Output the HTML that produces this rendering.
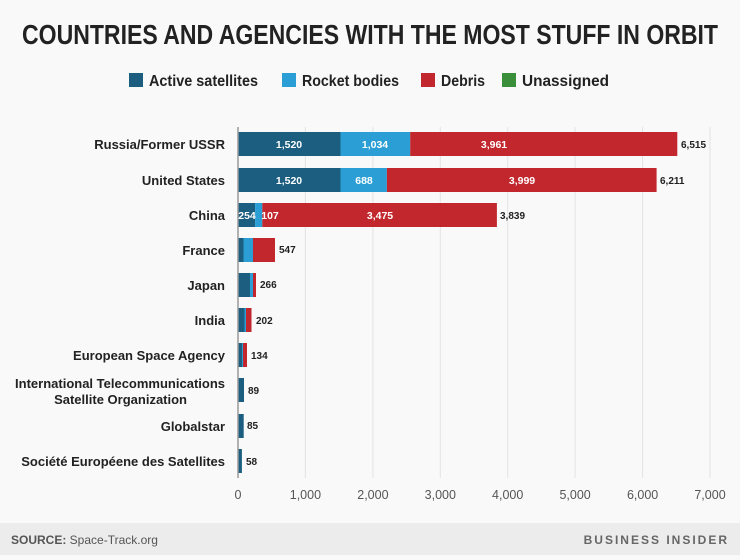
<!DOCTYPE html>
<html><head><meta charset="utf-8"><style>
body{margin:0;width:740px;height:555px;overflow:hidden;background:#f9f9f9;font-family:"Liberation Sans",sans-serif}
</style></head><body>
<svg width="740" height="555" xmlns="http://www.w3.org/2000/svg" font-family="Liberation Sans, sans-serif">
<rect width="740" height="555" fill="#f9f9f9"/>
<rect y="523" width="740" height="32" fill="#ececec"/>
<text x="22" y="44" font-weight="bold" font-size="28" fill="#222" textLength="696" lengthAdjust="spacingAndGlyphs">COUNTRIES AND AGENCIES WITH THE MOST STUFF IN ORBIT</text>
<g font-weight="bold" font-size="16" fill="#222">
<rect x="129" y="73" width="14" height="14" fill="#1b5e7f"/><text x="149" y="86" textLength="109" lengthAdjust="spacingAndGlyphs">Active satellites</text>
<rect x="282" y="73" width="14" height="14" fill="#2b9fd5"/><text x="302" y="86" textLength="97" lengthAdjust="spacingAndGlyphs">Rocket bodies</text>
<rect x="421" y="73" width="14" height="14" fill="#c1272d"/><text x="441" y="86" textLength="44" lengthAdjust="spacingAndGlyphs">Debris</text>
<rect x="502" y="73" width="14" height="14" fill="#3a8f3a"/><text x="522" y="86" textLength="87" lengthAdjust="spacingAndGlyphs">Unassigned</text>
</g>
<g stroke="#e3e3e3" stroke-width="1">
<line x1="305.4" y1="127" x2="305.4" y2="478"/><line x1="372.9" y1="127" x2="372.9" y2="478"/>
<line x1="440.3" y1="127" x2="440.3" y2="478"/><line x1="507.7" y1="127" x2="507.7" y2="478"/>
<line x1="575.1" y1="127" x2="575.1" y2="478"/><line x1="642.6" y1="127" x2="642.6" y2="478"/>
<line x1="710" y1="127" x2="710" y2="478"/>
</g>
<rect x="238" y="132" width="102.5" height="24" fill="#1b5e7f"/><rect x="340.5" y="132" width="69.7" height="24" fill="#2b9fd5"/><rect x="410.2" y="132" width="267.1" height="24" fill="#c1272d"/>
<rect x="238" y="168" width="102.5" height="24" fill="#1b5e7f"/><rect x="340.5" y="168" width="46.4" height="24" fill="#2b9fd5"/><rect x="386.9" y="168" width="269.7" height="24" fill="#c1272d"/>
<rect x="238" y="203" width="17.1" height="24" fill="#1b5e7f"/><rect x="255.1" y="203" width="7.2" height="24" fill="#2b9fd5"/><rect x="262.3" y="203" width="234.6" height="24" fill="#c1272d"/>
<rect x="238" y="238" width="5.5" height="24" fill="#1b5e7f"/><rect x="243.5" y="238" width="9.5" height="24" fill="#2b9fd5"/><rect x="253" y="238" width="22" height="24" fill="#c1272d"/>
<rect x="238" y="273" width="12" height="24" fill="#1b5e7f"/><rect x="250" y="273" width="3" height="24" fill="#2b9fd5"/><rect x="253" y="273" width="3" height="24" fill="#c1272d"/>
<rect x="238" y="308" width="6.5" height="24" fill="#1b5e7f"/><rect x="244.5" y="308" width="1.5" height="24" fill="#2b9fd5"/><rect x="246" y="308" width="5.5" height="24" fill="#c1272d"/>
<rect x="238" y="343" width="4" height="24" fill="#1b5e7f"/><rect x="242" y="343" width="1" height="24" fill="#2b9fd5"/><rect x="243" y="343" width="4" height="24" fill="#c1272d"/>
<rect x="238" y="378" width="6" height="24" fill="#1b5e7f"/>
<rect x="238" y="414" width="5.7" height="24" fill="#1b5e7f"/>
<rect x="238" y="449" width="3.9" height="24" fill="#1b5e7f"/>
<line x1="238" y1="127" x2="238" y2="478" stroke="#999" stroke-width="1.5"/>
<g font-weight="bold" font-size="10.5" fill="#fff" text-anchor="middle">
<text x="289" y="148">1,520</text><text x="375" y="148">1,034</text><text x="494" y="148">3,961</text>
<text x="289" y="184">1,520</text><text x="364" y="184">688</text><text x="522" y="184">3,999</text>
<text x="247" y="219">254</text><text x="270" y="219">107</text><text x="380" y="219">3,475</text>
</g>
<g font-weight="bold" font-size="10" fill="#222">
<text x="681" y="148">6,515</text><text x="660" y="184">6,211</text><text x="500" y="219">3,839</text>
<text x="279" y="253">547</text><text x="260" y="288">266</text><text x="256" y="324">202</text>
<text x="251" y="359">134</text><text x="248" y="394">89</text><text x="247" y="429">85</text><text x="246" y="465">58</text>
</g>
<g font-weight="bold" font-size="13" fill="#222" text-anchor="end">
<text x="225" y="149">Russia/Former USSR</text>
<text x="225" y="185">United States</text>
<text x="225" y="220">China</text>
<text x="225" y="255">France</text>
<text x="225" y="290">Japan</text>
<text x="225" y="325">India</text>
<text x="225" y="360">European Space Agency</text>
<text x="225" y="388">International Telecommunications</text>
<text x="187" y="404">Satellite Organization</text>
<text x="225" y="431">Globalstar</text>
<text x="225" y="466">Société Européene des Satellites</text>
</g>
<g font-size="12.5" fill="#555" text-anchor="middle">
<text x="238" y="499">0</text><text x="305.4" y="499">1,000</text><text x="372.9" y="499">2,000</text>
<text x="440.3" y="499">3,000</text><text x="507.7" y="499">4,000</text><text x="575.1" y="499">5,000</text>
<text x="642.6" y="499">6,000</text><text x="710" y="499">7,000</text>
</g>
<text x="11" y="544" font-size="12" fill="#555"><tspan font-weight="bold">SOURCE:</tspan> Space-Track.org</text>
<text x="729" y="544" text-anchor="end" font-size="12" font-weight="bold" fill="#666" letter-spacing="2">BUSINESS INSIDER</text>
</svg>
</body></html>
